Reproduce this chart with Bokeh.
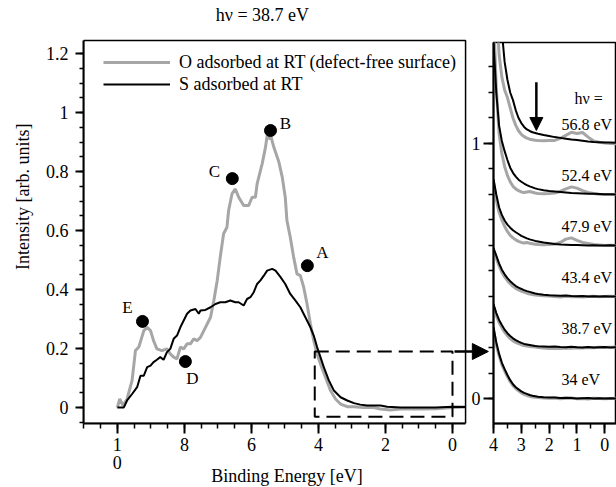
import numpy as np
from bokeh.plotting import figure
from bokeh.layouts import row
from bokeh.models import FixedTicker, Label, Arrow, NormalHead, BoxAnnotation, Title, LinearAxis
from bokeh.embed import file_html
from bokeh.resources import INLINE

FONT = "Liberation Serif"
GREY = "#a6a6a6"

# ---------------- left panel data (h nu = 38.7 eV) ----------------
O_E = [10.0, 9.93, 9.83, 9.71, 9.56, 9.46, 9.36, 9.21, 9.11, 9.01, 8.92, 8.82, 8.67, 8.52, 8.42, 8.32,
       8.22, 8.12, 8.02, 7.92, 7.82, 7.72, 7.62, 7.52, 7.37, 7.22, 7.12, 7.02, 6.93, 6.83, 6.73, 6.68,
       6.58, 6.48, 6.38, 6.23, 6.08, 5.98, 5.88, 5.83, 5.68, 5.58, 5.53, 5.46, 5.41, 5.33, 5.18, 5.08,
       4.99, 4.94, 4.84, 4.74, 4.64, 4.54, 4.44, 4.34, 4.24, 4.14, 4.04, 3.94, 3.79, 3.64, 3.49, 3.34,
       3.14, 2.94, 2.65, 2.35, 2.15, 1.85, 1.55, 1.15, 0.95, 0.5, 0.0, -0.4]
O_I = [0.0, 0.029, 0.007, 0.029, 0.092, 0.193, 0.205, 0.261, 0.272, 0.261, 0.227, 0.199, 0.193, 0.199,
       0.182, 0.171, 0.165, 0.205, 0.199, 0.216, 0.216, 0.233, 0.227, 0.238, 0.272, 0.306, 0.363, 0.431,
       0.510, 0.589, 0.611, 0.668, 0.724, 0.741, 0.713, 0.685, 0.685, 0.713, 0.713, 0.758, 0.826, 0.882,
       0.922, 0.911, 0.916, 0.882, 0.832, 0.781, 0.713, 0.634, 0.577, 0.510, 0.453, 0.447, 0.408, 0.351,
       0.284, 0.227, 0.182, 0.148, 0.103, 0.058, 0.029, 0.012, 0.003, 0.003, 0.0, 0.0, -0.005, -0.008,
       -0.005, -0.005, -0.005, -0.004, 0.0, 0.002]
S_E = [10.0, 9.81, 9.71, 9.56, 9.41, 9.31, 9.21, 9.11, 9.01, 8.92, 8.82, 8.72, 8.62, 8.52, 8.42, 8.32,
       8.22, 8.12, 8.02, 7.92, 7.82, 7.67, 7.57, 7.52, 7.37, 7.22, 7.07, 6.93, 6.78, 6.63, 6.48, 6.38,
       6.23, 6.13, 6.03, 5.93, 5.83, 5.73, 5.63, 5.53, 5.38, 5.28, 5.13, 4.99, 4.84, 4.69, 4.54, 4.39,
       4.24, 4.14, 4.04, 3.94, 3.84, 3.69, 3.54, 3.34, 3.14, 2.94, 2.75, 2.55, 2.35, 2.15, 1.95, 1.55,
       1.15, 0.95, 0.5, 0.0, -0.4]
S_I = [0.0, 0.0, 0.024, 0.046, 0.069, 0.108, 0.108, 0.137, 0.142, 0.154, 0.162, 0.171, 0.162, 0.188,
       0.199, 0.233, 0.244, 0.272, 0.295, 0.318, 0.329, 0.334, 0.318, 0.329, 0.331, 0.340, 0.351, 0.357,
       0.357, 0.363, 0.357, 0.357, 0.346, 0.368, 0.374, 0.391, 0.419, 0.431, 0.447, 0.464, 0.470, 0.464,
       0.442, 0.419, 0.385, 0.363, 0.340, 0.306, 0.272, 0.244, 0.205, 0.171, 0.137, 0.092, 0.058, 0.035,
       0.024, 0.015, 0.010, 0.007, 0.007, 0.007, 0.003, 0.0, 0.0, 0.0, 0.0, 0.003, 0.002]

PEAK_NAMES = ["A", "B", "C", "D", "E"]
PEAK_E = [4.33, 5.43, 6.57, 7.97, 9.25]
PEAK_I = [0.481, 0.939, 0.776, 0.156, 0.292]

ZOOM_BOX = dict(left=0.0, right=4.11, bottom=-0.031, top=0.19)

X_TICKS = [0, 2, 4, 6, 8, 10]
X_TICK_LABELS = ["0", "2", "4", "6", "8", "1\n0"]   # the "10" is printed on two rows
Y_TICKS = [0, 0.2, 0.4, 0.6, 0.8, 1.0, 1.2]
Y_TICK_LABELS = ["0", "0.2", "0.4", "0.6", "0.8", "1", "1.2"]
X_BOUNDS = (-0.39, 11.01)     # visible box of the left panel (energy)
Y_BOUNDS = (-0.054, 1.244)    # visible box of the left panel (intensity)
TITLE_POS = (5.67, 1.329)

# ---------------- right panel data (near E_F, stacked) ----------------
RX = [4.0, 3.9, 3.8, 3.7, 3.6, 3.5, 3.4, 3.3, 3.2, 3.1, 3.0, 2.9, 2.8, 2.7, 2.6, 2.5, 2.4,
      2.2, 2.0, 1.8, 1.6, 1.4, 1.2, 1.0, 0.8, 0.6, 0.4, 0.2, 0.0, -0.2, -0.4]
HV_LABELS = ["34 eV", "38.7 eV", "43.4 eV", "47.9 eV", "52.4 eV", "56.8 eV"]
OFFSETS = [0.0, 0.2, 0.4, 0.6, 0.8, 1.0]
S_34 = [0.28, 0.22, 0.175, 0.14, 0.115, 0.092, 0.072, 0.056, 0.044, 0.036, 0.028, 0.022, 0.018, 0.014, 0.011, 0.009, 0.007,
        0.005, 0.004, 0.004, 0.002, 0.003, 0.002, 0.0, 0.001, 0.002, 0.0, 0.001, 0.0, 0.001, 0.0]
O_34 = [0.27, 0.21, 0.168, 0.133, 0.108, 0.085, 0.066, 0.05, 0.039, 0.03, 0.022, 0.016, 0.012, 0.009, 0.006, 0.005, 0.004,
        0.002, 0.001, 0.002, -0.001, 0.001, 0.002, -0.001, 0.0, -0.002, 0.001, 0.0, -0.001, 0.0, 0.001]
S_38 = [0.17, 0.135, 0.108, 0.088, 0.07, 0.056, 0.045, 0.036, 0.029, 0.023, 0.018, 0.014, 0.012, 0.01, 0.008, 0.006, 0.005,
        0.004, 0.003, 0.004, 0.002, 0.001, 0.003, 0.001, 0.0, 0.002, 0.0, 0.001, 0.002, 0.0, 0.001]
O_38 = [0.16, 0.125, 0.098, 0.078, 0.06, 0.046, 0.035, 0.026, 0.02, 0.015, 0.011, 0.008, 0.006, 0.004, 0.003, 0.002, 0.0,
        -0.002, -0.004, -0.003, -0.004, -0.002, -0.003, -0.001, -0.002, 0.0, -0.001, 0.001, 0.0, 0.001, 0.002]
S_43 = [0.19, 0.16, 0.13, 0.105, 0.087, 0.072, 0.06, 0.05, 0.041, 0.035, 0.03, 0.025, 0.021, 0.018, 0.015, 0.012, 0.01,
        0.007, 0.005, 0.004, 0.003, 0.004, 0.002, 0.001, 0.002, 0.0, 0.001, 0.0, 0.001, 0.0, 0.0]
O_43 = [0.18, 0.15, 0.12, 0.095, 0.077, 0.062, 0.05, 0.04, 0.032, 0.026, 0.021, 0.017, 0.013, 0.01, 0.008, 0.006, 0.005,
        0.003, 0.002, 0.0, -0.002, 0.001, -0.001, 0.0, -0.002, 0.0, 0.001, -0.001, 0.0, 0.001, 0.0]
S_47 = [0.26, 0.2, 0.15, 0.12, 0.098, 0.082, 0.07, 0.06, 0.052, 0.045, 0.038, 0.033, 0.028, 0.024, 0.021, 0.018, 0.016,
        0.012, 0.009, 0.006, 0.004, 0.003, 0.002, 0.002, 0.001, 0.0, 0.001, 0.0, 0.0, 0.001, 0.0]
O_47 = [0.25, 0.18, 0.13, 0.1, 0.075, 0.055, 0.04, 0.03, 0.022, 0.016, 0.012, 0.01, 0.012, 0.009, 0.007, 0.005, 0.004,
        0.003, 0.004, 0.006, 0.012, 0.025, 0.03, 0.02, 0.012, 0.008, 0.004, 0.002, 0.0, 0.001, 0.0]
S_52 = [0.6, 0.4, 0.27, 0.21, 0.17, 0.135, 0.105, 0.085, 0.07, 0.058, 0.05, 0.043, 0.037, 0.032, 0.028, 0.024, 0.021,
        0.017, 0.014, 0.012, 0.01, 0.008, 0.006, 0.005, 0.004, 0.003, 0.003, 0.002, 0.001, 0.001, 0.0]
O_52 = [0.7, 0.42, 0.24, 0.16, 0.11, 0.075, 0.05, 0.032, 0.022, 0.015, 0.01, 0.008, 0.01, 0.012, 0.009, 0.006, 0.004,
        0.003, 0.004, 0.006, 0.012, 0.022, 0.03, 0.025, 0.015, 0.008, 0.004, 0.001, 0.0, 0.0, 0.001]
S_56 = [1.2, 0.85, 0.6, 0.44, 0.32, 0.25, 0.2, 0.17, 0.13, 0.1, 0.08, 0.065, 0.055, 0.049, 0.044, 0.041, 0.038,
        0.033, 0.029, 0.025, 0.022, 0.019, 0.016, 0.014, 0.011, 0.008, 0.006, 0.005, 0.004, 0.004, 0.003]
O_56 = [1.2, 0.55, 0.35, 0.26, 0.21, 0.18, 0.14, 0.1, 0.071, 0.05, 0.036, 0.027, 0.021, 0.017, 0.015, 0.013, 0.012,
        0.011, 0.012, 0.012, 0.02, 0.032, 0.044, 0.039, 0.043, 0.025, 0.01, 0.005, 0.002, 0.0, -0.001]
S_SET = [S_34, S_38, S_43, S_47, S_52, S_56]
O_SET = [O_34, O_38, O_43, O_47, O_52, O_56]

RX_TICKS = [0, 1, 2, 3, 4]
RY_TICKS = [0, 1]


def style_axis(ax, tick_out, minor_out, standoff):
    ax.axis_line_width = 2
    ax.axis_line_color = "black"
    ax.major_tick_line_width = 2
    ax.minor_tick_line_width = 1.5
    ax.major_tick_line_color = "black"
    ax.minor_tick_line_color = "black"
    ax.major_tick_in = 0
    ax.minor_tick_in = 0
    ax.major_tick_out = tick_out
    ax.minor_tick_out = minor_out
    ax.major_label_standoff = standoff
    ax.major_label_text_font = FONT
    ax.major_label_text_font_size = "18px"
    ax.major_label_text_color = "black"


def no_frame_align(fig):
    if "frame_align" in fig.properties():
        fig.frame_align = False


# ================= left figure =================
# The frame runs from the top of the canvas down to the x axis and out to x=490 px, so the
# title and the connecting arrow fit inside it; the visible panel box is drawn at the bounds.
p = figure(frame_width=407, frame_height=423, x_range=(11.01, -1.134), y_range=(-0.054, 1.3797),
           output_backend="svg", toolbar_location=None,
           min_border_left=83, min_border_right=0, min_border_top=0, min_border_bottom=64)
no_frame_align(p)
p.grid.visible = False
p.outline_line_color = None
p.background_fill_color = "white"
p.border_fill_color = "white"

row1 = {t: s.split("\n")[0] for t, s in zip(X_TICKS, X_TICK_LABELS)}
row2 = {t: s.split("\n")[1] for t, s in zip(X_TICKS, X_TICK_LABELS) if "\n" in s}

p.xaxis.ticker = FixedTicker(ticks=X_TICKS, minor_ticks=list(np.arange(0.0, 11.01, 0.5)))
p.xaxis.major_label_overrides = row1
p.xaxis.bounds = X_BOUNDS
p.yaxis.ticker = FixedTicker(ticks=Y_TICKS, minor_ticks=list(np.round(np.arange(-0.05, 1.25, 0.05), 2)))
p.yaxis.major_label_overrides = {t: s for t, s in zip(Y_TICKS, Y_TICK_LABELS)}
p.yaxis.bounds = Y_BOUNDS
style_axis(p.xaxis[0], 10, 5, 4)
style_axis(p.yaxis[0], 8, 4, 7)

# second row of tick labels (the "0" of "10") plus the axis title
ax2 = LinearAxis(ticker=FixedTicker(ticks=list(row2.keys())), major_label_overrides=row2,
                 bounds=X_BOUNDS)
style_axis(ax2, 0, 0, 2)
ax2.axis_line_color = None
ax2.major_tick_line_color = None
ax2.axis_label = "Binding Energy [eV]"
ax2.axis_label_text_font = FONT
ax2.axis_label_text_font_size = "18px"
ax2.axis_label_text_font_style = "normal"
ax2.axis_label_text_color = "black"
ax2.axis_label_standoff = -6
p.add_layout(ax2, "below")

# panel box
p.add_layout(BoxAnnotation(left=X_BOUNDS[0], right=X_BOUNDS[1], bottom=Y_BOUNDS[0], top=Y_BOUNDS[1],
                           fill_alpha=0, fill_color=None, line_color="black", line_alpha=1.0,
                           line_width=1.5))

p.line(O_E, O_I, color=GREY, line_width=3, legend_label="O adsorbed at RT (defect-free surface)")
p.line(S_E, S_I, color="black", line_width=2, legend_label="S adsorbed at RT")
p.scatter(PEAK_E, PEAK_I, size=12, color="black")

label_offsets = {"A": (15, 13), "B": (15, 7), "C": (-18, 7), "D": (7, -17), "E": (-15, 14)}
for name, e, i in zip(PEAK_NAMES, PEAK_E, PEAK_I):
    dx, dy = label_offsets[name]
    p.add_layout(Label(x=e, y=i, x_offset=dx, y_offset=dy, text=name, text_font=FONT,
                       text_color="black", text_font_size="17px", text_align="center",
                       text_baseline="middle"))

p.add_layout(BoxAnnotation(fill_alpha=0, fill_color=None, line_color="black", line_alpha=1.0,
                           line_width=2, line_dash="14 7", **ZOOM_BOX))
p.add_layout(Arrow(end=NormalHead(size=16, fill_color="black", line_color="black"),
                   x_start=-0.06, y_start=ZOOM_BOX["top"], x_end=-1.07, y_end=ZOOM_BOX["top"],
                   line_width=2.5, line_color="black"))

leg = p.legend[0]
leg.location = (20, 328)
leg.glyph_width = 67
leg.glyph_height = 22
leg.label_height = 22
leg.spacing = 0
leg.padding = 0
leg.margin = 0
leg.label_standoff = 9
leg.border_line_color = None
leg.background_fill_alpha = 0
leg.label_text_font = FONT
leg.label_text_font_size = "18px"
leg.label_text_color = "black"

p.add_layout(Label(x=TITLE_POS[0], y=TITLE_POS[1], text="hν = 38.7 eV", text_font=FONT,
                   text_color="black", text_font_size="18px", text_align="center",
                   text_baseline="middle"))

p.add_layout(Title(text="Intensity [arb. units]", align="right", offset=123, text_font=FONT,
                   text_color="black", text_font_size="18px", text_font_style="normal",
                   standoff=20), "left")

# ================= right figure =================
q = figure(frame_width=123, frame_height=381, x_range=(4.0, -0.42), y_range=(-0.098, 1.396),
           output_backend="svg", toolbar_location=None,
           min_border_left=25, min_border_right=0, min_border_top=42, min_border_bottom=64)
no_frame_align(q)
q.margin = (0, 0, 0, -22)
q.border_fill_alpha = 0
q.grid.visible = False
q.outline_line_color = "black"
q.outline_line_width = 1.5
q.xaxis.ticker = FixedTicker(ticks=RX_TICKS, minor_ticks=list(np.arange(-0.5, 4.01, 0.5)))
q.yaxis.ticker = FixedTicker(ticks=RY_TICKS, minor_ticks=list(np.round(np.arange(-0.1, 1.41, 0.1), 2)))
style_axis(q.xaxis[0], 10, 5, 4)
style_axis(q.yaxis[0], 10, 5, 3)

for off, s_vals, o_vals, lab in zip(OFFSETS, S_SET, O_SET, HV_LABELS):
    q.line(RX, [v + off for v in o_vals], color=GREY, line_width=3)
    q.line(RX, [v + off for v in s_vals], color="black", line_width=2)
    q.add_layout(Label(x=1.56, y=off + 0.075, text=lab, text_font=FONT, text_color="black",
                       text_font_size="16px", text_align="left", text_baseline="middle"))

q.add_layout(Label(x=1.09, y=1.176, text="hν =", text_font=FONT, text_color="black",
                   text_font_size="16px", text_align="left", text_baseline="middle"))
q.add_layout(Arrow(end=NormalHead(size=13, fill_color="black", line_color="black"),
                   x_start=2.46, y_start=1.24, x_end=2.46, y_end=1.051,
                   line_width=2.5, line_color="black"))

layout = row(p, q, spacing=0)
open("out.html", "w").write(file_html(layout, INLINE))
